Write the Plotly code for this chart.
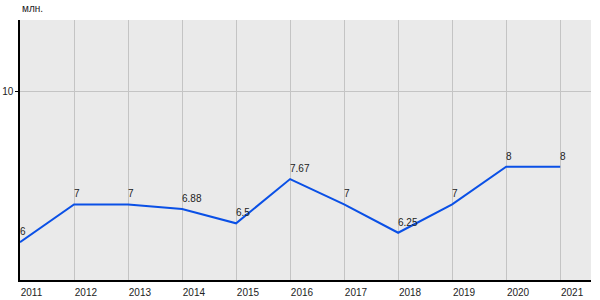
import plotly.graph_objects as go

years = [2011, 2012, 2013, 2014, 2015, 2016, 2017, 2018, 2019, 2020, 2021]
values = [6, 7, 7, 6.88, 6.5, 7.67, 7, 6.25, 7, 8, 8]
labels = ["6", "7", "7", "6.88", "6.5", "7.67", "7", "6.25", "7", "8", "8"]
y_ticks = [10]
unit = "млн."

fig = go.Figure()
fig.add_trace(go.Scatter(
    x=years, y=values, mode="lines",
    line=dict(color="#0a50e6", width=2),
    cliponaxis=False, hoverinfo="skip",
))

annotations = [dict(
    x=xv, y=yv, text=t, xref="x", yref="y", xanchor="left", yanchor="bottom",
    xshift=-2, yshift=3, showarrow=False,
    font=dict(family="Liberation Sans, Arial", size=10, color="#222222"),
) for xv, yv, t in zip(years, values, labels)]

annotations.append(dict(
    text=unit, xref="paper", yref="paper", x=0, y=1, xanchor="left",
    yanchor="bottom", yshift=4, showarrow=False,
    font=dict(family="Liberation Sans, Arial", size=10, color="#222222"),
))

fig.update_layout(
    width=600, height=300,
    margin=dict(l=20, r=9, t=20, b=20),
    paper_bgcolor="white", plot_bgcolor="#eaeaea",
    showlegend=False,
    font=dict(family="Liberation Sans, Arial", size=10, color="#222222"),
    xaxis=dict(
        range=[2011, 2021.57], tickvals=years, ticktext=[str(y) for y in years],
        showgrid=True, gridcolor="#c4c4c4", gridwidth=1,
        showline=True, linecolor="black", linewidth=1.5,
        ticks="", ticklabelposition="outside right", ticklabelstandoff=2,
        tickfont=dict(size=10), zeroline=False, fixedrange=True, automargin=False,
    ),
    yaxis=dict(
        range=[5, 11.88], tickvals=y_ticks, ticktext=[str(v) for v in y_ticks],
        showgrid=True, gridcolor="#c4c4c4", gridwidth=1,
        showline=True, linecolor="black", linewidth=1.5,
        ticks="outside", ticklen=3, tickcolor="black",
        tickfont=dict(size=10), zeroline=False, fixedrange=True, automargin=False,
    ),
    annotations=annotations,
)

fig.write_html("out.html")
